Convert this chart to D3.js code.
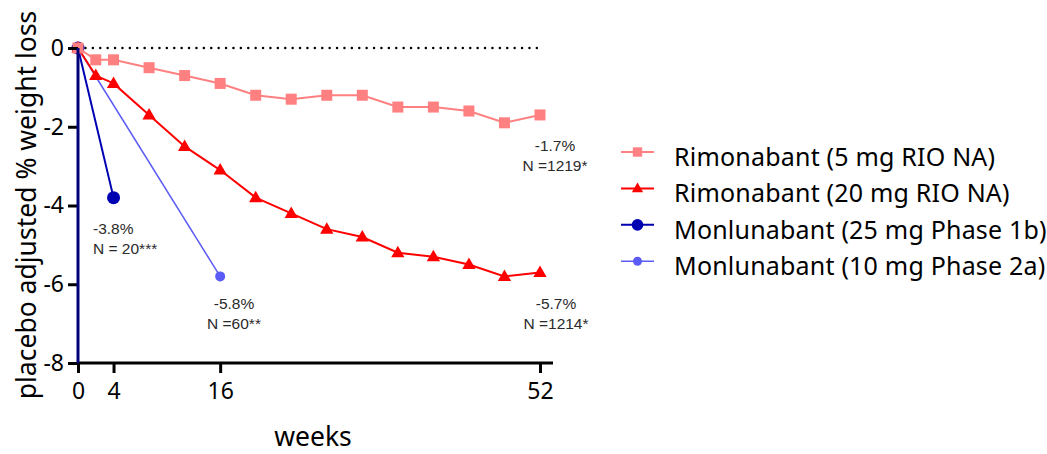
<!DOCTYPE html>
<html>
<head>
<meta charset="utf-8">
<script src="https://cdn.jsdelivr.net/npm/d3@7"></script>
<style>
  html, body { margin: 0; padding: 0; background: #fff; }
  svg { display: block; }
  text { font-family: "Noto Sans", sans-serif; }
</style>
</head>
<body>
<svg id="chart" width="1047" height="454"></svg>
<script>
// Weekly placebo-adjusted weight change (%)
const rimoWeeks = [0, 2, 4, 8, 12, 16, 20, 24, 28, 32, 36, 40, 44, 48, 52];
const rimo5 = [0, -0.3, -0.3, -0.5, -0.7, -0.9, -1.2, -1.3, -1.2, -1.2, -1.5, -1.5, -1.6, -1.9, -1.7];
const rimo20 = [0, -0.7, -0.9, -1.7, -2.5, -3.1, -3.8, -4.2, -4.6, -4.8, -5.2, -5.3, -5.5, -5.8, -5.7];
const mon25Weeks = [0, 4];
const mon25 = [0, -3.8];
const mon10Weeks = [0, 16];
const mon10 = [0, -5.8];

const xTicks = [0, 4, 16, 52];
const yTicks = [0, -2, -4, -6, -8];

const seriesNames = [
  "Rimonabant (5 mg RIO NA)",
  "Rimonabant (20 mg RIO NA)",
  "Monlunabant (25 mg Phase 1b)",
  "Monlunabant (10 mg Phase 2a)"
];
const annotations = [
  { week: 52, value: -1.7, n: "N =1219*" },
  { week: 52, value: -5.7, n: "N =1214*" },
  { week: 4, value: -3.8, n: "N = 20***" },
  { week: 16, value: -5.8, n: "N =60**" }
];

// plain hyphen-minus for negative numbers
const fmtInt = d => String(d);
const fmtPct = d => d.toFixed(1) + "%";

const svg = d3.select("#chart");
const x = d3.scaleLinear().domain([0, 52]).range([78, 540]);
const y = d3.scaleLinear().domain([-8, 0]).range([363, 48]);

const series = [
  { name: seriesNames[3], weeks: mon10Weeks, values: mon10, color: "#5b5bf5", shape: "circle", size: 5, width: 1.5 },
  { name: seriesNames[2], weeks: mon25Weeks, values: mon25, color: "#0000b3", shape: "circle", size: 6.5, width: 2 },
  { name: seriesNames[1], weeks: rimoWeeks, values: rimo20, color: "#ff0000", shape: "triangle", size: 7, width: 2 },
  { name: seriesNames[0], weeks: rimoWeeks, values: rimo5, color: "#ff8080", shape: "square", size: 5.5, width: 2 }
];

function drawMarker(g, shape, size, color) {
  if (shape === "circle") {
    g.append("circle").attr("r", size).attr("fill", color);
  } else if (shape === "square") {
    g.append("rect").attr("x", -size).attr("y", -size)
      .attr("width", size * 2).attr("height", size * 2).attr("fill", color);
  } else {
    const s = size;
    g.append("path").attr("d", `M0,${-s}L${s * 0.95},${s * 0.65}L${-s * 0.95},${s * 0.65}Z`).attr("fill", color);
  }
}

// zero reference line
svg.append("line")
  .attr("x1", x(0)).attr("x2", x(52))
  .attr("y1", y(0)).attr("y2", y(0))
  .attr("stroke", "#000").attr("stroke-width", 2.4)
  .attr("stroke-linecap", "round")
  .attr("stroke-dasharray", "0.1,7.3");

// series lines and markers
series.forEach(s => {
  const pts = s.weeks.map((w, i) => [w, s.values[i]]);
  svg.append("path")
    .datum(pts)
    .attr("fill", "none")
    .attr("stroke", s.color)
    .attr("stroke-width", s.width)
    .attr("d", d3.line().x(d => x(d[0])).y(d => y(d[1])));
  pts.forEach(p => {
    const g = svg.append("g").attr("transform", `translate(${x(p[0])},${y(p[1])})`);
    drawMarker(g, s.shape, s.size, s.color);
  });
});

// axes
const xAxis = svg.append("g")
  .attr("transform", `translate(0,${y(-8)})`)
  .call(d3.axisBottom(x).tickValues(xTicks).tickSize(10).tickPadding(10).tickFormat(fmtInt));
xAxis.select(".domain").remove();
xAxis.selectAll(".tick line").attr("stroke", "#000").attr("stroke-width", 3);
xAxis.selectAll(".tick text").attr("font-size", 23).attr("fill", "#000")
  .style("font-family", "'Noto Sans', sans-serif");

const yAxis = svg.append("g")
  .attr("transform", `translate(${x(0)},0)`)
  .call(d3.axisLeft(y).tickValues(yTicks).tickSize(10).tickPadding(4).tickFormat(fmtInt));
yAxis.select(".domain").remove();
yAxis.selectAll(".tick line").attr("stroke", "#000").attr("stroke-width", 3);
yAxis.selectAll(".tick text").attr("font-size", 23).attr("fill", "#000")
  .style("font-family", "'Noto Sans', sans-serif");

svg.append("line")
  .attr("x1", x(0) - 1.5).attr("x2", x(52) + 13)
  .attr("y1", y(-8)).attr("y2", y(-8))
  .attr("stroke", "#000").attr("stroke-width", 3);
svg.append("line")
  .attr("x1", x(0)).attr("x2", x(0))
  .attr("y1", y(0)).attr("y2", y(-8))
  .attr("stroke", "#00007a").attr("stroke-width", 3);

// axis titles
svg.append("text")
  .attr("x", 313).attr("y", 446)
  .attr("text-anchor", "middle").attr("font-size", 26.5).attr("fill", "#000")
  .text("weeks");
svg.append("text")
  .attr("transform", `translate(36,205) rotate(-90)`)
  .attr("text-anchor", "middle").attr("font-size", 26.5).attr("fill", "#000")
  .text("placebo adjusted % weight loss");

// value annotations
const annPos = [
  { cx: 555, cy: 151, anchor: "middle" },
  { cx: 556, cy: 309, anchor: "middle" },
  { cx: 93, cy: 234, anchor: "start" },
  { cx: 234, cy: 309, anchor: "middle" }
];
annotations.forEach((a, i) => {
  const p = annPos[i];
  const t = svg.append("text").attr("font-size", 15.5).attr("fill", "#2a2a2a")
    .style("font-family", "'Liberation Sans', Arial, sans-serif")
    .attr("text-anchor", p.anchor);
  t.append("tspan").attr("x", p.cx).attr("y", p.cy).text(fmtPct(a.value));
  t.append("tspan").attr("x", p.cx).attr("y", p.cy + 20).text(a.n);
});

// legend
const legendOrder = [3, 2, 1, 0];
legendOrder.forEach((si, i) => {
  const s = series[si];
  const ly = 152 + i * 36.4;
  const g = svg.append("g").attr("transform", `translate(0,${ly})`);
  g.append("line").attr("x1", 621).attr("x2", 654).attr("y1", 0).attr("y2", 0)
    .attr("stroke", s.color).attr("stroke-width", s.width);
  const m = g.append("g").attr("transform", "translate(637.5,0)");
  drawMarker(m, s.shape, s.shape === "circle" ? s.size * 0.9 : s.size * 0.85, s.color);
  g.append("text").attr("x", 674).attr("y", 14).attr("font-size", 25).attr("fill", "#000")
    .attr("letter-spacing", 0.2)
    .text(s.name);
});
</script>
</body>
</html>
